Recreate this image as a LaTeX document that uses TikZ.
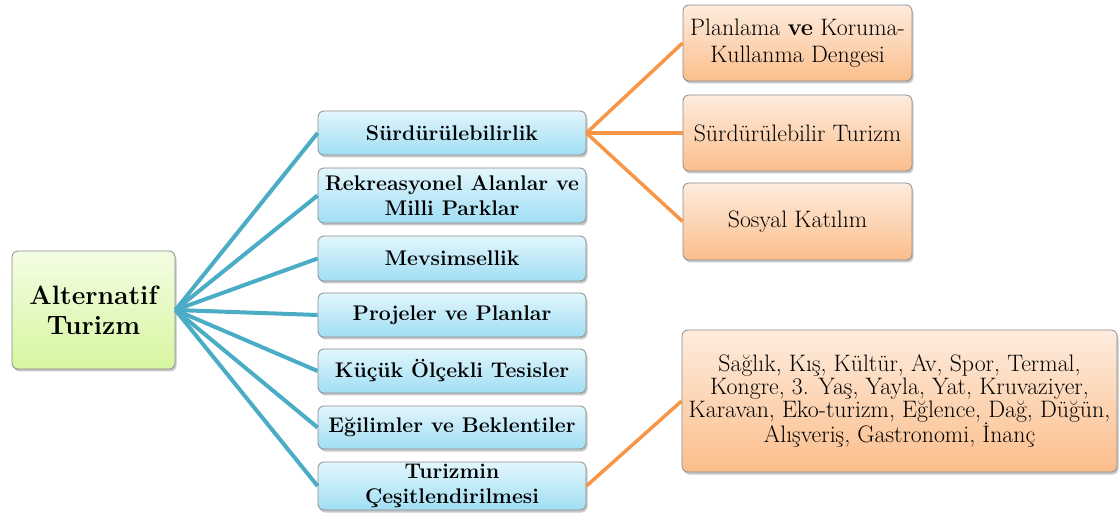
\documentclass[tikz,border=0pt]{standalone}
\usepackage{fontspec}
\definecolor{bluecon}{HTML}{4BACC6}
\definecolor{orgcon}{HTML}{F79646}
\definecolor{boxline}{HTML}{8C8C8C}
\definecolor{shadowc}{HTML}{C8C8C8}
\tikzset{
  basebox/.style={draw=boxline, line width=0.8pt, rounded corners=6pt, align=center, inner sep=2pt,
    preaction={fill=shadowc, draw=none, transform canvas={xshift=1.5pt, yshift=-2.5pt}}},
  rootbox/.style={basebox, top color={rgb,255:red,244;green,253;blue,228}, bottom color={rgb,255:red,214;green,246;blue,160},
    font=\fontsize{26.5}{30}\selectfont\bfseries, minimum width=163pt, minimum height=118pt},
  bluebox/.style={basebox, top color={rgb,255:red,226;green,246;blue,252}, bottom color={rgb,255:red,160;green,222;blue,244},
    font=\fontsize{21.2}{24.5}\selectfont\bfseries, minimum width=268pt},
  orgbox/.style={basebox, top color={rgb,255:red,254;green,236;blue,222}, bottom color={rgb,255:red,251;green,190;blue,140},
    font=\fontsize{23.8}{26.7}\selectfont, minimum width=229pt},
  bigbox/.style={basebox, top color={rgb,255:red,254;green,236;blue,222}, bottom color={rgb,255:red,251;green,190;blue,140},
    font=\fontsize{23.8}{23.2}\selectfont, minimum width=435pt, minimum height=142pt},
  bluelink/.style={draw=bluecon, line width=4pt},
  orglink/.style={draw=orgcon, line width=3.5pt}
}
\begin{document}
\begin{tikzpicture}[x=1pt,y=-1pt]
\useasboundingbox (0,0) rectangle (1119,518);
\node[rootbox] (root) at (93.5,310) {Alternatif\\Turizm};
\node[bluebox, minimum height=44pt] (b1) at (452,133) {Sürdürülebilirlik};
\node[bluebox, minimum height=55pt] (b2) at (452,195.5) {Rekreasyonel Alanlar ve\\Milli Parklar};
\node[bluebox, minimum height=45pt] (b3) at (452,258.5) {Mevsimsellik};
\node[bluebox, minimum height=44pt] (b4) at (452,315) {Projeler ve Planlar};
\node[bluebox, minimum height=44pt] (b5) at (452,371) {Küçük Ölçekli Tesisler};
\node[bluebox, minimum height=43pt] (b6) at (452,427.5) {Eğilimler ve Beklentiler};
\node[bluebox, minimum height=48pt] (b7) at (452,486) {Turizmin\\Çeşitlendirilmesi};
\node[orgbox, minimum height=76pt] (o1) at (797.5,43) {Planlama \textbf{ve} Koruma-\\Kullanma Dengesi};
\node[orgbox, minimum height=76pt] (o2) at (797.5,133) {Sürdürülebilir Turizm};
\node[orgbox, minimum height=77pt] (o3) at (797.5,221.5) {Sosyal Katılım};
\node[bigbox] (o4) at (899.5,401) {Sağlık, Kış, Kültür, Av, Spor, Termal,\\Kongre, 3. Yaş, Yayla, Yat, Kruvaziyer,\\Karavan, Eko-turizm, Eğlence, Dağ, Düğün,\\Alışveriş, Gastronomi, İnanç};
\foreach \b in {b1,b2,b3,b4,b5,b6,b7}{
  \draw[bluelink] (root.east) -- (\b.west);
}
\foreach \o in {o1,o2,o3}{
  \draw[orglink] (b1.east) -- (\o.west);
}
\draw[orglink] (b7.east) -- (o4.west);
\end{tikzpicture}
\end{document}
